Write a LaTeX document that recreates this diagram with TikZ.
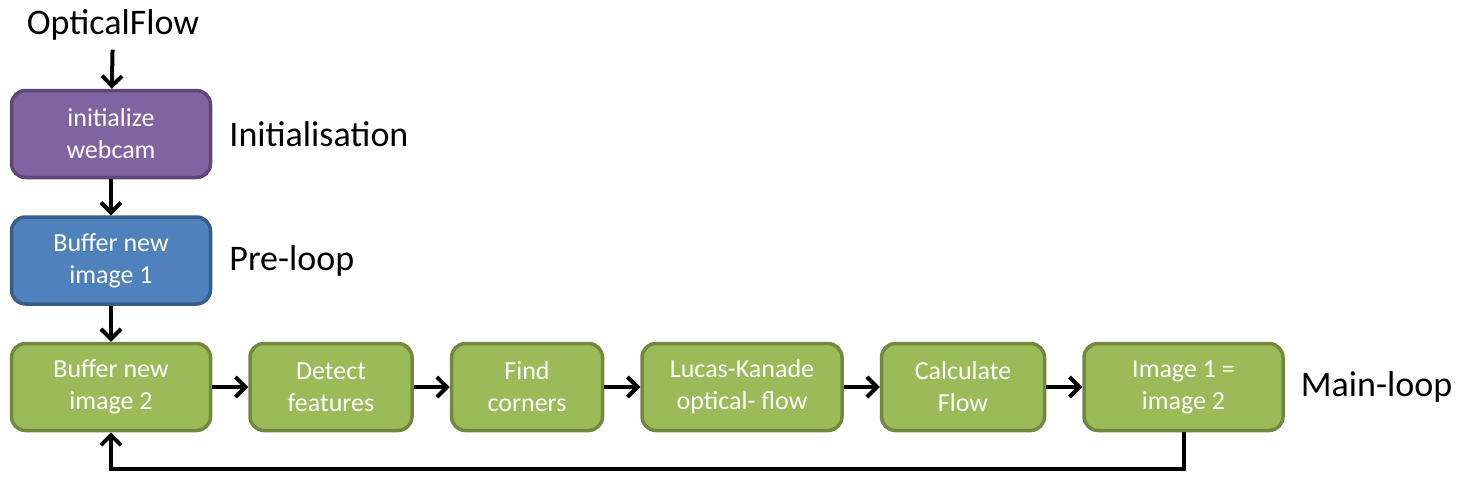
\documentclass[tikz,border=0pt]{standalone}
\usepackage{fontspec}
\setmainfont{Carlito}
\usetikzlibrary{positioning,arrows.meta}
\definecolor{initfill}{HTML}{8064A2}
\definecolor{initline}{HTML}{5C4776}
\definecolor{prefill}{HTML}{4F81BD}
\definecolor{preline}{HTML}{385D8A}
\definecolor{mainfill}{HTML}{9BBB59}
\definecolor{mainline}{HTML}{71893F}
\tikzset{
	stage/.style={rectangle, rounded corners=14pt, line width=3.5pt, text=white, align=center,
		minimum height=87pt, inner sep=0pt, font=\fontsize{26}{32}\selectfont},
	initstage/.style={stage, fill=initfill, draw=initline},
	prestage/.style={stage, fill=prefill, draw=preline},
	mainstage/.style={stage, fill=mainfill, draw=mainline},
	phase/.style={inner sep=0pt, font=\fontsize{36}{40}\selectfont},
	flow/.style={line width=4pt, -{Straight Barb[length=10pt,width=20pt,line width=4pt]}}
}
\begin{document}
\begin{tikzpicture}[x=1pt, y=-1pt, node distance=36pt]
			\useasboundingbox (0,0) rectangle (1472,485);
			\node (title) [phase] at (113,25) {OpticalFlow};
			\node (init) [initstage, minimum width=199pt] at (111,134) {initialize\\webcam};
			\node (buf1) [prestage, minimum width=199pt, below=of init] {Buffer new\\image 1};
			\node (buf2) [mainstage, minimum width=199pt, below=of buf1] {Buffer new\\image 2};
			\node (detect) [mainstage, minimum width=162pt, right=of buf2] {Detect\\features};
			\node (corners) [mainstage, minimum width=151pt, right=of detect] {Find\\corners};
			\node (lk) [mainstage, minimum width=200pt, right=of corners] {Lucas-Kanade\\optical- flow};
			\node (calc) [mainstage, minimum width=163pt, right=of lk] {Calculate\\Flow};
			\node (swap) [mainstage, minimum width=199pt, right=of calc] {Image 1 =\\image 2};
			\node (initlbl) [phase, anchor=west, right=17pt of init] {Initialisation};
			\node (prelbl) [phase, anchor=west, right=17pt of buf1] {Pre-loop};
			\node (mainlbl) [phase, anchor=west, right=16pt of swap] {Main-loop};
			\draw[flow, shorten <=9pt] (title) -- (init);
			\draw[flow] (init) -- (buf1);
			\draw[flow] (buf1) -- (buf2);
			\draw[flow] (buf2) -- (detect);
			\draw[flow] (detect) -- (corners);
			\draw[flow] (corners) -- (lk);
			\draw[flow] (lk) -- (calc);
			\draw[flow] (calc) -- (swap);
			\draw[flow] (swap.south) -- ++(0,37) -| (buf2.south);
		\end{tikzpicture}
\end{document}
